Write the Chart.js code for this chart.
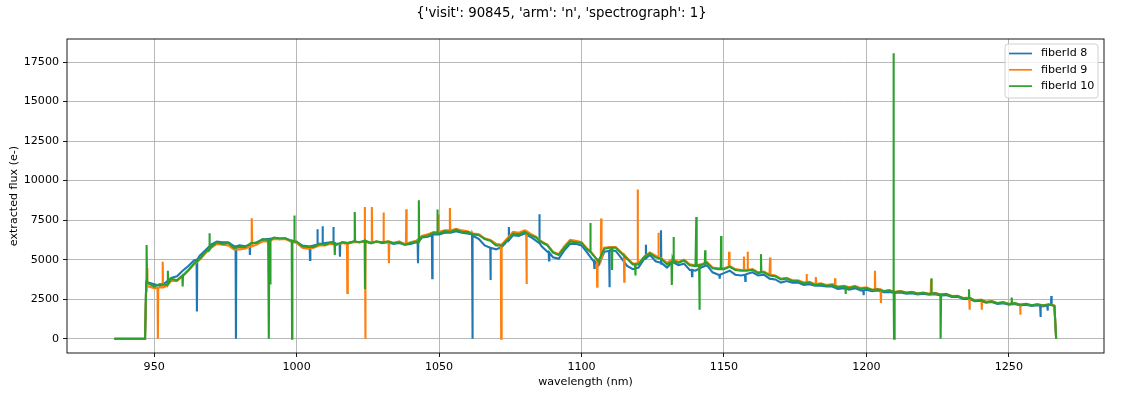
<!DOCTYPE html>
<html>
<head>
<meta charset="utf-8">
<script src="https://cdn.jsdelivr.net/npm/chart.js"></script>
<style>
  html, body { margin: 0; padding: 0; background: #fff; }
  #wrap { width: 1123px; height: 394px; }
</style>
</head>
<body>
<div id="wrap"><canvas id="spectrum" width="1123" height="394"></canvas></div>
<script>
// wavelength grid (nm), shared by the three fibers
const wavelength = [
  936, 946.8, 947.2,
  948, 950, 952, 954, 956, 958, 960, 962, 964, 966, 968, 970, 972, 974, 976, 978, 980, 982, 984, 986,
  988, 990, 992, 994, 996, 998, 1000, 1002, 1004, 1006, 1008, 1010, 1012, 1014, 1016, 1018, 1020, 1022, 1024, 1026,
  1028, 1030, 1032, 1034, 1036, 1038, 1040, 1042, 1044, 1046, 1048, 1050, 1052, 1054, 1056, 1058, 1060, 1062, 1064, 1066,
  1068, 1070, 1072, 1074, 1076, 1078, 1080, 1082, 1084, 1086, 1088, 1090, 1092, 1094, 1096, 1098, 1100, 1102, 1104, 1106,
  1108, 1110, 1112, 1114, 1116, 1118, 1120, 1122, 1124, 1126, 1128, 1130, 1132, 1134, 1136, 1138, 1140, 1142, 1144, 1146,
  1148, 1150, 1152, 1154, 1156, 1158, 1160, 1162, 1164, 1166, 1168, 1170, 1172, 1174, 1176, 1178, 1180, 1182, 1184, 1186,
  1188, 1190, 1192, 1194, 1196, 1198, 1200, 1202, 1204, 1206, 1208, 1210, 1212, 1214, 1216, 1218, 1220, 1222, 1224, 1226,
  1228, 1230, 1232, 1234, 1236, 1238, 1240, 1242, 1244, 1246, 1248, 1250, 1252, 1254, 1256, 1258, 1260, 1262, 1264, 1266,
  1266.6
];

const flux8 = [
  0, 0, 3500,
  3550, 3450, 3350, 3550, 3850, 3950, 4300, 4600, 4950, 5250, 5600, 5950, 6150, 6100, 6100, 5850, 5900, 5850, 6000, 6100,
  6250, 6300, 6350, 6300, 6350, 6200, 6100, 5900, 5850, 5900, 6000, 6050, 6100, 6000, 6100, 6050, 6150, 6100, 6150, 6050,
  6150, 6050, 6100, 6000, 6050, 5950, 6000, 6100, 6400, 6450, 6600, 6600, 6700, 6700, 6800, 6700, 6650, 6500, 6300, 5900,
  5750, 5650, 5800, 6200, 6550, 6500, 6650, 6450, 6200, 5850, 5500, 5150, 5050, 5600, 6000, 6000, 5900, 5450, 4950, 4650,
  5500, 5600, 5550, 5100, 4600, 4400, 4500, 5050, 5300, 4900, 4750, 4500, 4850, 4650, 4750, 4350, 4300, 4500, 4650, 4200,
  4050, 4150, 4300, 4050, 4000, 4100, 4200, 4000, 4050, 3800, 3750, 3550, 3650, 3550, 3550, 3400, 3450, 3350, 3350, 3300,
  3300, 3150, 3200, 3100, 3200, 3050, 3100, 3000, 3050, 2950, 2950, 2900, 2920, 2850, 2880, 2800, 2850, 2780, 2820, 2730,
  2760, 2640, 2650, 2520, 2530, 2380, 2400, 2280, 2320, 2200, 2250, 2150, 2200, 2100, 2150, 2080, 2120, 2050, 2150, 2050,
  0
];

const flux9 = [
  0, 0, 3400,
  3300, 3200, 3250, 3300, 3650, 3650, 3950, 4300, 4700, 5000, 5400, 5750, 6000, 5950, 5900, 5650, 5650, 5700, 5850, 5950,
  6150, 6150, 6300, 6300, 6300, 6150, 6050, 5750, 5700, 5750, 5900, 5900, 6000, 5950, 6050, 6000, 6100, 6100, 6150, 6050,
  6150, 6100, 6150, 6050, 6150, 6000, 6100, 6200, 6500, 6600, 6750, 6750, 6850, 6850, 6950, 6850, 6800, 6650, 6600, 6350,
  6250, 6000, 5950, 6350, 6750, 6700, 6850, 6650, 6450, 6150, 5950, 5500, 5350, 5850, 6250, 6200, 6100, 5700, 5350, 5000,
  5750, 5800, 5800, 5450, 5100, 4750, 4750, 5200, 5450, 5250, 5100, 4800, 5050, 4850, 5000, 4700, 4650, 4700, 4850, 4500,
  4450, 4450, 4600, 4400, 4350, 4350, 4400, 4200, 4250, 4050, 4000, 3800, 3850, 3700, 3700, 3550, 3600, 3450, 3500, 3400,
  3450, 3300, 3350, 3250, 3350, 3200, 3250, 3100, 3150, 3020, 3080, 2970, 3020, 2920, 2970, 2870, 2920, 2850, 2900, 2800,
  2840, 2700, 2720, 2580, 2600, 2440, 2460, 2340, 2380, 2260, 2310, 2200, 2260, 2160, 2210, 2120, 2180, 2110, 2170, 2090,
  0
];

const flux10 = [
  0, 0, 3600,
  3500, 3300, 3450, 3400, 3800, 3700, 4050, 4350, 4750, 5050, 5500, 5800, 6100, 6000, 6050, 5750, 5800, 5800, 6050, 6050,
  6300, 6250, 6400, 6350, 6350, 6200, 6150, 5850, 5800, 5800, 6000, 5950, 6100, 5950, 6100, 6050, 6150, 6100, 6200, 6050,
  6150, 6100, 6150, 6050, 6100, 5950, 6050, 6150, 6450, 6500, 6700, 6650, 6800, 6750, 6900, 6750, 6750, 6600, 6550, 6300,
  6200, 5900, 5900, 6250, 6650, 6600, 6750, 6550, 6400, 6100, 5900, 5450, 5300, 5750, 6150, 6100, 6050, 5650, 5300, 4900,
  5700, 5750, 5750, 5400, 5050, 4700, 4700, 5150, 5400, 5150, 5050, 4700, 5000, 4800, 4950, 4650, 4600, 4650, 4800, 4450,
  4400, 4400, 4550, 4350, 4300, 4300, 4350, 4150, 4200, 4000, 3950, 3750, 3800, 3650, 3650, 3500, 3550, 3400, 3450, 3350,
  3400, 3250, 3300, 3200, 3300, 3150, 3200, 3080, 3130, 3000, 3050, 2950, 3000, 2900, 2950, 2850, 2900, 2830, 2890, 2780,
  2820, 2680, 2700, 2560, 2580, 2420, 2440, 2320, 2360, 2240, 2300, 2190, 2250, 2150, 2200, 2110, 2170, 2100, 2160, 2080,
  0
];

// narrow spikes: [wavelength, level beside it, spike value]
const spikes8 = [
  [965.0, 5000, 1720], [978.7, 5850, 0], [983.6, 5950, 5300], [1004.7, 5850, 4980], [1007.3, 5950, 6930],
  [1009.1, 6000, 7120], [1012.9, 6100, 7070], [1015.2, 6000, 5180], [1042.6, 6150, 4780], [1047.6, 6550, 3820],
  [1061.7, 6600, 0], [1068.1, 5750, 3720], [1074.5, 6250, 7070], [1085.2, 6050, 7870], [1088.6, 5450, 4950],
  [1104.5, 4900, 4470], [1109.8, 5550, 3250], [1122.6, 5100, 5950], [1127.9, 4800, 6860], [1138.8, 4350, 3950],
  [1148.5, 4050, 3800], [1157.5, 4050, 3650], [1199.0, 3050, 2750], [1261.1, 2100, 1370], [1263.6, 2100, 1780],
  [1264.9, 2150, 2700]
];

const spikes9 = [
  [947.5, 3300, 4470], [951.3, 3200, 0], [953.0, 3250, 4870], [984.3, 5850, 7620], [1017.8, 6000, 2900],
  [1023.9, 6150, 8330], [1024.1, 6150, 0], [1026.4, 6050, 8330], [1030.5, 6100, 7980], [1032.4, 6150, 4770],
  [1038.5, 6000, 8190], [1049.8, 6750, 7850], [1053.8, 6850, 8270], [1071.8, 5950, 0], [1080.7, 6800, 3460],
  [1105.5, 5000, 3290], [1106.9, 5100, 7600], [1115.0, 5300, 3610], [1119.7, 4750, 9430], [1127.0, 5150, 6700],
  [1151.8, 4550, 5500], [1157.0, 4350, 5200], [1158.3, 4350, 5500], [1166.2, 4050, 5140], [1179.0, 3580, 4100],
  [1182.3, 3450, 3900], [1189.0, 3350, 3820], [1203.0, 3120, 4300], [1205.1, 3100, 2260], [1222.7, 2850, 3760],
  [1236.2, 2600, 1830], [1240.5, 2460, 1830], [1254.0, 2160, 1510]
];

const spikes10 = [
  [947.4, 3600, 5920], [954.8, 3450, 4300], [960.0, 4000, 3300], [969.4, 5650, 6670], [990.3, 6250, 0],
  [990.7, 6250, 3500], [998.4, 6200, 0], [999.2, 6150, 7800], [1013.4, 6000, 5290], [1020.4, 6150, 8010],
  [1024.0, 6200, 3150], [1042.9, 6150, 8750], [1049.4, 6650, 8170], [1103.1, 5500, 7320], [1110.7, 5750, 4350],
  [1118.9, 4700, 4000], [1131.7, 4850, 3400], [1132.3, 4900, 6440], [1140.3, 4600, 7700], [1141.4, 4650, 1830],
  [1143.4, 4750, 5600], [1149.0, 4400, 6490], [1163.0, 4180, 5350], [1192.7, 3280, 2830], [1209.5, 2950, 18050],
  [1209.7, 2950, 0], [1222.8, 2850, 3820], [1226.1, 2800, 0], [1236.0, 2580, 3130], [1251.0, 2220, 2600]
];

const xTicks = [950, 1000, 1050, 1100, 1150, 1200, 1250];
const yTicks = [0, 2500, 5000, 7500, 10000, 12500, 15000, 17500];
const seriesLabels = ['fiberId 8', 'fiberId 9', 'fiberId 10'];
const seriesColors = ['#1f77b4', '#ff7f0e', '#2ca02c'];
const titleText = "{'visit': 90845, 'arm': 'n', 'spectrograph': 1}";

const FONT = 'DejaVu Sans';

function buildPoints(flux, spikes) {
    const pts = wavelength.map((w, i) => ({ x: w, y: flux[i] }));
    spikes.forEach(s => {
        pts.push({ x: s[0] - 0.12, y: s[1] });
        pts.push({ x: s[0], y: s[2] });
        pts.push({ x: s[0] + 0.12, y: s[1] });
    });
    return pts.sort((a, b) => a.x - b.x);
}

// frame, suptitle and the boxed legend in the upper right
const decorations = {
    id: 'decorations',
    afterDatasetsDraw(chart) {
        const ctx = chart.ctx;
        const a = chart.chartArea;
        ctx.save();
        ctx.strokeStyle = '#000';
        ctx.lineWidth = 0.9;
        ctx.strokeRect(a.left, a.top, a.right - a.left, a.bottom - a.top);
        ctx.restore();
    },
    afterDraw(chart) {
        const ctx = chart.ctx;
        const a = chart.chartArea;
        ctx.save();
        ctx.fillStyle = '#000';
        ctx.font = '13.3px "' + FONT + '"';
        ctx.textAlign = 'center';
        ctx.textBaseline = 'middle';
        ctx.fillText(titleText, chart.width / 2, 14);

        // legend box
        const boxW = 93, boxH = 54;
        const bx = a.right - 6 - boxW, by = a.top + 5;
        ctx.beginPath();
        ctx.roundRect(bx, by, boxW, boxH, 3);
        ctx.fillStyle = 'rgba(255,255,255,0.8)';
        ctx.fill();
        ctx.strokeStyle = '#cccccc';
        ctx.lineWidth = 0.9;
        ctx.stroke();

        ctx.font = '11.1px "' + FONT + '"';
        ctx.textAlign = 'left';
        chart.data.datasets.forEach((ds, i) => {
            const y = by + 9.5 + i * 16.3;
            ctx.beginPath();
            ctx.moveTo(bx + 4, y);
            ctx.lineTo(bx + 27, y);
            ctx.strokeStyle = ds.borderColor;
            ctx.lineWidth = 1.7;
            ctx.stroke();
            ctx.fillStyle = '#000';
            ctx.fillText(ds.label, bx + 36, y);
        });
        ctx.restore();
    }
};

document.addEventListener("DOMContentLoaded", function() {
    const ctx = document.getElementById('spectrum').getContext('2d');
    const allFlux = [flux8, flux9, flux10];
    const allSpikes = [spikes8, spikes9, spikes10];

    new Chart(ctx, {
        type: 'line',
        data: {
            datasets: seriesLabels.map((label, i) => ({
                label: label,
                data: buildPoints(allFlux[i], allSpikes[i]),
                borderColor: seriesColors[i],
                backgroundColor: seriesColors[i],
                borderWidth: 2.1,
                pointRadius: 0,
                tension: 0,
                fill: false,
                order: 2 - i
            }))
        },
        options: {
            responsive: false,
            animation: false,
            layout: { padding: { top: 39, right: 19, left: 0, bottom: 0 } },
            plugins: {
                legend: { display: false },
                title: { display: false },
                tooltip: { enabled: false }
            },
            scales: {
                x: {
                    type: 'linear',
                    min: 919.4,
                    max: 1283.4,
                    afterBuildTicks: axis => { axis.ticks = xTicks.map(v => ({ value: v })); },
                    afterFit: axis => { axis.height = 41; },
                    ticks: {
                        color: '#000',
                        font: { family: FONT, size: 11.1 },
                        padding: 3,
                        maxRotation: 0,
                        autoSkip: false,
                        callback: v => String(v)
                    },
                    grid: { color: '#b0b0b0', lineWidth: 0.9, tickColor: '#000', tickLength: 4 },
                    border: { display: false },
                    title: {
                        display: true,
                        text: 'wavelength (nm)',
                        color: '#000',
                        font: { family: FONT, size: 11.1 },
                        padding: { top: 0, bottom: 5 }
                    }
                },
                y: {
                    type: 'linear',
                    min: -903,
                    max: 18955,
                    afterBuildTicks: axis => { axis.ticks = yTicks.map(v => ({ value: v })); },
                    afterFit: axis => { axis.width = 67; },
                    ticks: {
                        color: '#000',
                        font: { family: FONT, size: 11.1 },
                        padding: 4,
                        autoSkip: false,
                        callback: v => String(v)
                    },
                    grid: { color: '#b0b0b0', lineWidth: 0.9, tickColor: '#000', tickLength: 4 },
                    border: { display: false },
                    title: {
                        display: true,
                        text: 'extracted flux (e-)',
                        color: '#000',
                        font: { family: FONT, size: 11.1 },
                        padding: { top: 7, bottom: 0 }
                    }
                }
            }
        },
        plugins: [decorations]
    });
});
</script>
</body>
</html>
